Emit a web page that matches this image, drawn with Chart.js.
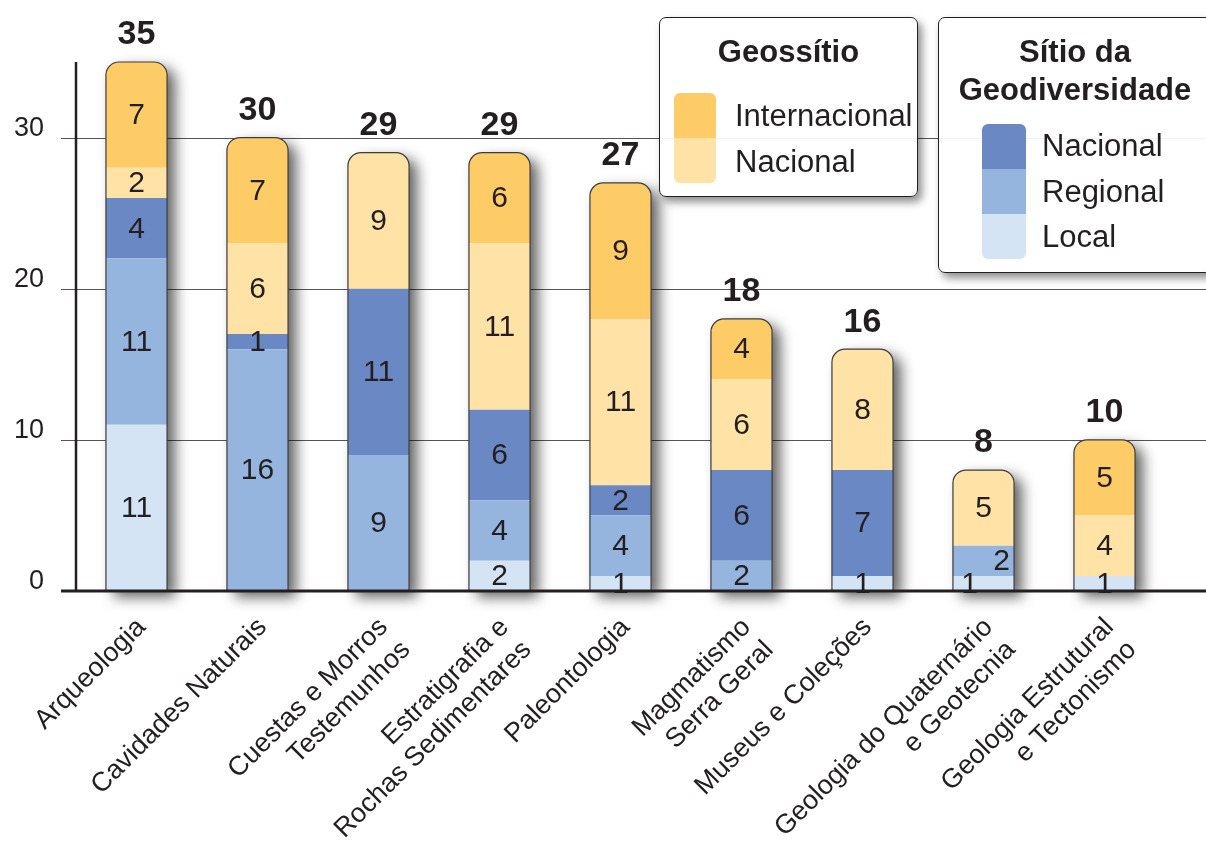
<!DOCTYPE html>
<html lang="pt">
<head>
<meta charset="utf-8">
<title>Geossítios e Sítios da Geodiversidade por tema</title>
<script src="https://cdn.jsdelivr.net/npm/chart.js@4.4.1/dist/chart.umd.min.js"></script>
<style>
  html, body { margin: 0; padding: 0; background: #fff; }
  #wrap { position: relative; width: 1206px; height: 842px; overflow: hidden; font-family: "Liberation Sans", Arial, Helvetica, sans-serif; color: #231F20; }
  #chart { position: absolute; left: 0; top: 0; }
  .legend { position: absolute; background: rgba(255,255,255,0.93); border: 1.5px solid #231F20; border-radius: 7px; box-shadow: 4px 5px 9px rgba(0,0,0,0.45); box-sizing: border-box; }
  .legend .ltitle { position: absolute; left: 0; width: 100%; text-align: center; font-weight: bold; font-size: 31px; line-height: 38px; }
  .legend .swatch { position: absolute; border-radius: 6px; overflow: hidden; }
  .legend .swatch div { width: 100%; height: 45px; }
  .legend .lab { position: absolute; font-size: 31px; line-height: 36px; white-space: nowrap; }
</style>
</head>
<body>
<div id="wrap">
  <canvas id="chart" width="1206" height="842"></canvas>
  <div class="legend" id="legGeo" style="left:659px;top:17px;width:259px;height:180px">
    <div class="ltitle" style="top:15px">Geossítio</div>
  </div>
  <div class="legend" id="legSitio" style="left:938px;top:17px;width:274px;height:256px">
    <div class="ltitle" style="top:15px">Sítio da<br>Geodiversidade</div>
  </div>
</div>
<script>
// ---- dados ----
const categories = [
  ['Arqueologia'],
  ['Cavidades Naturais'],
  ['Cuestas e Morros', 'Testemunhos'],
  ['Estratigrafia e', 'Rochas Sedimentares'],
  ['Paleontologia'],
  ['Magmatismo', 'Serra Geral'],
  ['Museus e Coleções'],
  ['Geologia do Quaternário', 'e Geotecnia'],
  ['Geologia Estrutural', 'e Tectonismo']
];

// Sítio da Geodiversidade
const sitioLocal    = [11, 0, 0, 2, 1, 0, 1, 1, 1];
const sitioRegional = [11, 16, 9, 4, 4, 2, 0, 2, 0];
const sitioNacional = [4, 1, 11, 6, 2, 6, 7, 0, 0];
// Geossítio
const geoNacional      = [2, 6, 9, 11, 11, 6, 8, 5, 4];
const geoInternacional = [7, 7, 0, 6, 9, 4, 0, 0, 5];

const yTicks = [0, 10, 20, 30];
const yMax = 35;

// ---- cores ----
const COR_LOCAL = '#D4E4F4';
const COR_REGIONAL = '#95B4DE';
const COR_NAC_SITIO = '#6A89C4';
const COR_NAC_GEO = '#FFE2A5';
const COR_INTERNACIONAL = '#FECC66';
const TXT = '#231F20';
const FONTE = '"Liberation Sans", Arial, Helvetica, sans-serif';

const series = [
  { label: 'Local', data: sitioLocal, color: COR_LOCAL, grupo: 'sitio' },
  { label: 'Regional', data: sitioRegional, color: COR_REGIONAL, grupo: 'sitio' },
  { label: 'Nacional', data: sitioNacional, color: COR_NAC_SITIO, grupo: 'sitio' },
  { label: 'Nacional', data: geoNacional, color: COR_NAC_GEO, grupo: 'geo' },
  { label: 'Internacional', data: geoInternacional, color: COR_INTERNACIONAL, grupo: 'geo' }
];

const totals = categories.map((_, i) => series.reduce((s, d) => s + d.data[i], 0));

// índice da série no topo de cada pilha
const topSeries = categories.map((_, i) => {
  let t = -1;
  series.forEach((s, d) => { if (s.data[i] > 0) t = d; });
  return t;
});

// caminho com cantos superiores arredondados
function topRounded(ctx, x, y, w, h, r) {
  ctx.beginPath();
  ctx.moveTo(x, y + h);
  ctx.lineTo(x, y + r);
  ctx.arcTo(x, y, x + r, y, r);
  ctx.lineTo(x + w - r, y);
  ctx.arcTo(x + w, y, x + w, y + r, r);
  ctx.lineTo(x + w, y + h);
  ctx.closePath();
}

const RAIO = 13;

// grade, sombra, contorno, eixos e rótulos
const barFrame = {
  id: 'barFrame',
  beforeDatasetsDraw(chart) {
    const { ctx, chartArea, scales: { x, y } } = chart;
    ctx.save();
    // linhas de grade até a borda direita
    ctx.strokeStyle = '#555';
    ctx.lineWidth = 1.2;
    yTicks.forEach(v => {
      if (v === 0) return;
      const py = Math.round(y.getPixelForValue(v)) + 0.5;
      ctx.beginPath();
      ctx.moveTo(chartArea.left - 15, py);
      ctx.lineTo(chart.width, py);
      ctx.stroke();
    });
    // sombra das barras
    const barW = chart.getDatasetMeta(0).data[0].width;
    totals.forEach((tot, i) => {
      const cx = x.getPixelForValue(i);
      const top = y.getPixelForValue(tot);
      const base = y.getPixelForValue(0);
      ctx.save();
      ctx.shadowColor = 'rgba(0,0,0,0.62)';
      ctx.shadowBlur = 14;
      ctx.shadowOffsetX = 8;
      ctx.shadowOffsetY = 6;
      topRounded(ctx, cx - barW / 2, top, barW, base - top, RAIO);
      ctx.fillStyle = '#fff';
      ctx.fill();
      ctx.restore();
    });
    ctx.restore();
  },
  afterDatasetsDraw(chart) {
    const { ctx, chartArea, scales: { x, y } } = chart;
    const barW = chart.getDatasetMeta(0).data[0].width;
    const base = y.getPixelForValue(0);
    ctx.save();

    // contorno de cada barra
    ctx.strokeStyle = '#3c3c3c';
    ctx.lineWidth = 1.2;
    totals.forEach((tot, i) => {
      const cx = x.getPixelForValue(i);
      const top = y.getPixelForValue(tot);
      topRounded(ctx, cx - barW / 2, top, barW, base - top, RAIO);
      ctx.stroke();
    });

    // eixo vertical e linha de base
    ctx.strokeStyle = TXT;
    ctx.lineWidth = 2.5;
    ctx.beginPath();
    ctx.moveTo(chartArea.left, chartArea.top);
    ctx.lineTo(chartArea.left, base + 1);
    ctx.stroke();
    ctx.lineWidth = 3;
    ctx.beginPath();
    ctx.moveTo(chartArea.left - 15, base);
    ctx.lineTo(chart.width, base);
    ctx.stroke();

    // valores dentro dos segmentos
    ctx.fillStyle = TXT;
    ctx.textAlign = 'center';
    ctx.textBaseline = 'middle';
    ctx.font = '30px ' + FONTE;
    categories.forEach((_, i) => {
      // segmentos visíveis da pilha, de baixo para cima
      const segs = [];
      chart.data.datasets.forEach((ds, d) => {
        if (ds.data[i] > 0) segs.push({ v: ds.data[i], el: chart.getDatasetMeta(d).data[i] });
      });
      segs.forEach((s, k) => {
        let dx = 0;
        // dois segmentos pequenos vizinhos: afasta os números na horizontal
        const next = segs[k + 1], prev = segs[k - 1];
        if (s.v <= 2 && next && next.v <= 2) dx = -14;
        else if (s.v <= 2 && prev && prev.v <= 2) dx = 18;
        ctx.fillText(String(s.v), s.el.x + dx, (s.el.y + s.el.base) / 2 + 1);
      });
    });

    // totais acima das barras
    ctx.font = 'bold 34px ' + FONTE;
    totals.forEach((tot, i) => {
      ctx.fillText(String(tot), x.getPixelForValue(i), y.getPixelForValue(tot) - 27);
    });

    // rótulos das categorias, inclinados a 45°
    ctx.font = '27px ' + FONTE;
    ctx.textAlign = 'right';
    ctx.textBaseline = 'middle';
    categories.forEach((lines, i) => {
      ctx.save();
      ctx.translate(x.getPixelForValue(i) + 5, base + 32);
      ctx.rotate(-Math.PI / 4);
      lines.forEach((ln, k) => ctx.fillText(ln, 0, k * 32));
      ctx.restore();
    });
    ctx.restore();
  }
};

const ctx = document.getElementById('chart').getContext('2d');
const chart = new Chart(ctx, {
  type: 'bar',
  data: {
    labels: categories,
    datasets: series.map(s => ({
      label: s.label,
      data: s.data,
      backgroundColor: s.color,
      borderWidth: 0,
      borderRadius: c => (c.datasetIndex === topSeries[c.dataIndex]
        ? { topLeft: RAIO, topRight: RAIO, bottomLeft: 0, bottomRight: 0 }
        : 0),
      borderSkipped: 'start',
      categoryPercentage: 1,
      barPercentage: 0.505
    }))
  },
  options: {
    responsive: false,
    animation: false,
    layout: { padding: { top: 62, right: 41, left: 0, bottom: 0 } },
    plugins: {
      legend: { display: false },
      tooltip: { enabled: false }
    },
    scales: {
      x: {
        stacked: true,
        grid: { display: false, drawTicks: false },
        border: { display: false },
        ticks: { display: false },
        afterFit(s) { s.height = 251; s.paddingLeft = 0; s.paddingRight = 0; }
      },
      y: {
        stacked: true,
        min: 0,
        max: yMax,
        grid: { display: false, drawTicks: false },
        border: { display: false },
        afterBuildTicks(s) { s.ticks = yTicks.map(v => ({ value: v })); },
        ticks: {
          color: TXT,
          padding: 32,
          labelOffset: -9,
          font: { family: FONTE, size: 27 }
        },
        afterFit(s) { s.width = 76; }
      }
    }
  },
  plugins: [barFrame]
});

// ---- legendas em dois grupos ----
function buildLegend(boxId, grupo, swLeft, swTop, swW, labLeft, labTop) {
  const box = document.getElementById(boxId);
  const itens = series.filter(s => s.grupo === grupo).reverse();
  const sw = document.createElement('div');
  sw.className = 'swatch';
  sw.style.left = swLeft + 'px';
  sw.style.top = swTop + 'px';
  sw.style.width = swW + 'px';
  itens.forEach((s, k) => {
    const part = document.createElement('div');
    part.style.background = s.color;
    sw.appendChild(part);
    const lab = document.createElement('div');
    lab.className = 'lab';
    lab.textContent = s.label;
    lab.style.left = labLeft + 'px';
    lab.style.top = (labTop + k * 45.5) + 'px';
    box.appendChild(lab);
  });
  box.appendChild(sw);
}
buildLegend('legGeo', 'geo', 14, 75, 42, 75, 80);
buildLegend('legSitio', 'sitio', 43, 106, 44, 103, 110);
</script>
</body>
</html>
